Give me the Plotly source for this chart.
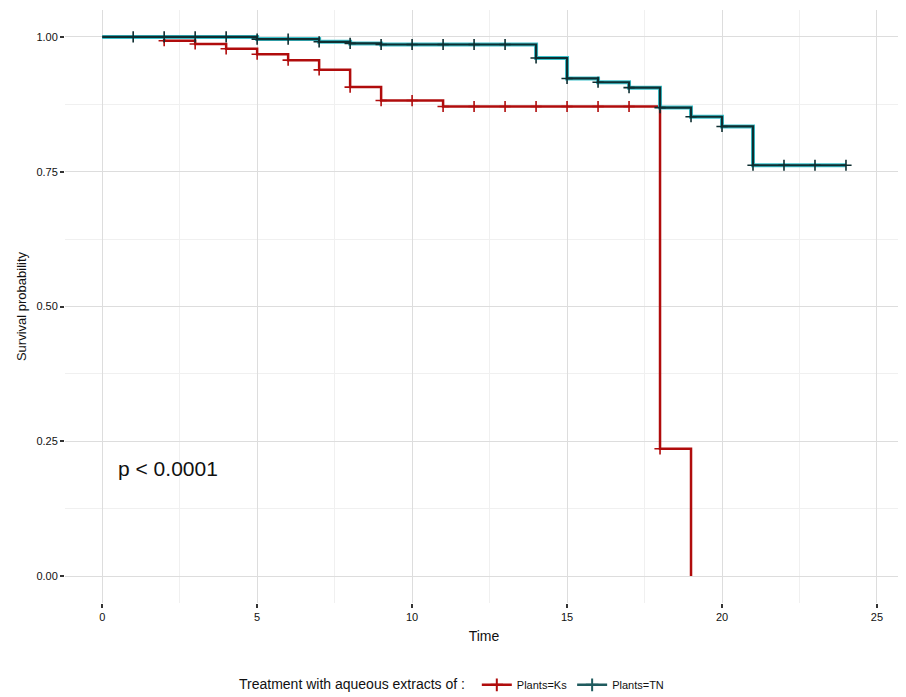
import numpy as np
import plotly.graph_objects as go

# ---- data ----
ks_time = [0, 2, 3, 4, 5, 6, 7, 8, 9, 11, 18, 19]
ks_surv = [1.0, 0.993, 0.987, 0.978, 0.968, 0.957, 0.939, 0.907, 0.882, 0.871, 0.236, 0.0]
ks_censor = [2, 3, 4, 5, 6, 7, 8, 9, 10, 11, 12, 13, 14, 15, 16, 17, 18]

tn_time = [0, 5, 7, 8, 9, 14, 15, 16, 17, 18, 19, 20, 21, 24]
tn_surv = [1.0, 0.996, 0.991, 0.988, 0.986, 0.961, 0.923, 0.916, 0.906, 0.869, 0.852, 0.834, 0.762, 0.762]
tn_censor = list(range(1, 25))

x_ticks = [0, 5, 10, 15, 20, 25]
y_ticks = [0.0, 0.25, 0.5, 0.75, 1.0]
y_ticklabels = ["0.00", "0.25", "0.50", "0.75", "1.00"]

KS_COLOR = "#B00C0C"
TN_COLOR = "#0E2E31"
TN_EDGE = "#3CC2CC"


def step_at(times, surv, t):
    idx = np.searchsorted(np.array(times), t, side="right") - 1
    return float(np.array(surv)[idx])


fig = go.Figure()

# KS curve
fig.add_trace(go.Scatter(x=ks_time, y=ks_surv, mode="lines", line_shape="hv",
                         line=dict(color=KS_COLOR, width=2.5), showlegend=False, hoverinfo="skip"))
fig.add_trace(go.Scatter(x=ks_censor, y=[step_at(ks_time, ks_surv, t) for t in ks_censor],
                         mode="markers", marker=dict(symbol="cross-thin", size=8,
                                                     line=dict(color=KS_COLOR, width=1.6)),
                         showlegend=False, hoverinfo="skip"))

# TN curve (cyan fringe + dark core)
fig.add_trace(go.Scatter(x=tn_time, y=tn_surv, mode="lines", line_shape="hv",
                         line=dict(color=TN_EDGE, width=4), showlegend=False, hoverinfo="skip"))
fig.add_trace(go.Scatter(x=tn_time, y=tn_surv, mode="lines", line_shape="hv",
                         line=dict(color=TN_COLOR, width=2.2), showlegend=False, hoverinfo="skip"))
fig.add_trace(go.Scatter(x=tn_censor, y=[step_at(tn_time, tn_surv, t) for t in tn_censor],
                         mode="markers", marker=dict(symbol="cross-thin", size=8,
                                                     line=dict(color=TN_COLOR, width=1.6)),
                         showlegend=False, hoverinfo="skip"))

# legend entries
fig.add_trace(go.Scatter(x=[None], y=[None], mode="lines+markers", name="Plants=Ks",
                         line=dict(color=KS_COLOR, width=2.5),
                         marker=dict(symbol="cross-thin", size=9, line=dict(color=KS_COLOR, width=2))))
fig.add_trace(go.Scatter(x=[None], y=[None], mode="lines+markers", name="Plants=TN",
                         line=dict(color="#1F5B5E", width=2.5),
                         marker=dict(symbol="cross-thin", size=9, line=dict(color="#1F5B5E", width=2))))

fig.add_annotation(x=0.45, y=0.2, xref="x", yref="y", text="p < 0.0001", showarrow=False,
                   xanchor="left", yanchor="middle",
                   font=dict(size=21, color="#111111", family="Liberation Sans, Arial, sans-serif"))

fig.update_xaxes(range=[-1.2, 25.84], tickvals=x_ticks, ticks="outside", ticklen=4, tickwidth=1.5,
                 tickcolor="#333333", showgrid=True, gridcolor="#DDDDDD", gridwidth=1.2,
                 minor=dict(dtick=2.5, tick0=0, showgrid=True, gridcolor="#F0F0F0", gridwidth=1),
                 zeroline=False, showline=False, automargin=False,
                 title=dict(text="Time", font=dict(size=14, color="#111111"), standoff=8),
                 tickfont=dict(size=11, color="#111111"))
fig.update_yaxes(range=[-0.05, 1.05], tickvals=y_ticks, ticktext=y_ticklabels, ticks="outside",
                 ticklen=4, tickwidth=1.5, tickcolor="#333333", showgrid=True, gridcolor="#DDDDDD",
                 gridwidth=1.2,
                 minor=dict(dtick=0.125, tick0=0, showgrid=True, gridcolor="#F0F0F0", gridwidth=1),
                 zeroline=False, showline=False, automargin=False,
                 title=dict(text="Survival probability", font=dict(size=13, color="#111111"), standoff=6),
                 tickfont=dict(size=11, color="#111111"))

fig.update_layout(
    width=898, height=689,
    margin=dict(l=57, r=3, t=2, b=94, autoexpand=False),
    plot_bgcolor="white", paper_bgcolor="white",
    font=dict(family="Liberation Sans, Arial, sans-serif", color="#111111"),
    legend=dict(orientation="h", x=0.463, xanchor="center", y=-0.138, yanchor="middle",
                title=dict(text="Treatment with aqueous extracts of : ", font=dict(size=14), side="left"),
                font=dict(size=11), itemwidth=30, tracegroupgap=0),
)

fig.write_html("out.html")
